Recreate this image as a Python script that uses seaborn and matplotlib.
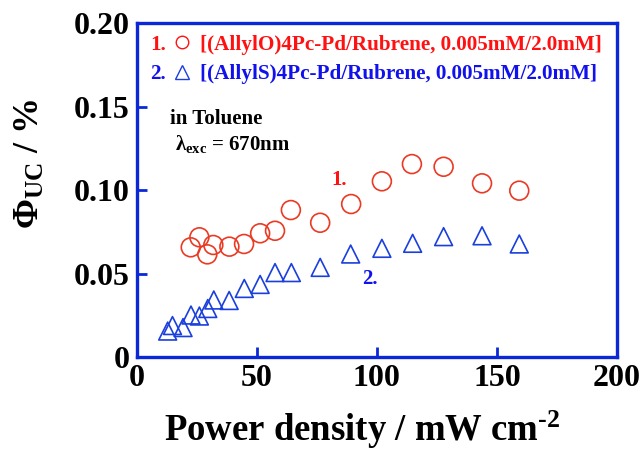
import matplotlib
matplotlib.use("Agg")
import matplotlib.pyplot as plt
import seaborn as sns
import pandas as pd

# ---- data ----
power_allylO = [22.5, 26.1, 29.4, 31.9, 38.6, 44.7, 51.4, 57.6, 64.2, 76.4,
                89.3, 102.1, 114.6, 127.8, 143.8, 159.3]
phi_allylO = [0.0658, 0.0718, 0.0616, 0.0672, 0.0662, 0.0678, 0.0742, 0.0757,
              0.0881, 0.0805, 0.0917, 0.1053, 0.1156, 0.1140, 0.1041, 0.0997]
power_allylS = [12.9, 14.9, 19.3, 22.6, 26.1, 29.6, 32.1, 38.5, 44.8, 51.4,
                57.6, 64.4, 76.4, 89.1, 102.1, 114.9, 127.8, 143.8, 159.3]
phi_allylS = [0.0157, 0.0190, 0.0178, 0.0253, 0.0247, 0.0292, 0.0343, 0.0340,
              0.0412, 0.0436, 0.0507, 0.0507, 0.0538, 0.0618, 0.0652, 0.0682,
              0.0722, 0.0727, 0.0678]
x_ticks = [0, 50, 100, 150, 200]
y_ticks = [0, 0.05, 0.10, 0.15, 0.20]
y_ticklabels = ["0", "0.05", "0.10", "0.15", "0.20"]
label_1 = "[(AllylO)4Pc-Pd/Rubrene, 0.005mM/2.0mM]"
label_2 = "[(AllylS)4Pc-Pd/Rubrene, 0.005mM/2.0mM]"

RED = "#ea3a24"
BLUE = "#1a3fdd"
FRAME = "#0a28d8"
TXT_RED = "#ff1111"
TXT_BLUE = "#1111ee"

sns.set_style("white")
plt.rcParams["font.family"] = ["Liberation Serif", "DejaVu Serif"]
plt.rcParams["font.weight"] = "bold"
plt.rcParams["text.color"] = "black"
plt.rcParams["axes.labelcolor"] = "black"
plt.rcParams["mathtext.fontset"] = "custom"
plt.rcParams["mathtext.rm"] = "Liberation Serif:bold"
plt.rcParams["mathtext.it"] = "Liberation Serif:bold"
plt.rcParams["mathtext.bf"] = "Liberation Serif:bold"

df1 = pd.DataFrame({"power": power_allylO, "phi": phi_allylO})
df2 = pd.DataFrame({"power": power_allylS, "phi": phi_allylS})

fig = plt.figure(figsize=(6.41, 4.50), dpi=100)
ax = fig.add_axes([136.7 / 641, (450 - 357.3) / 450, (617 - 136.7) / 641, (357.3 - 23) / 450])

sns.scatterplot(data=df1, x="power", y="phi", ax=ax, marker="o", s=185,
                facecolor="none", edgecolor=RED, linewidth=1.2, zorder=3)
sns.scatterplot(data=df2, x="power", y="phi", ax=ax, marker="^", s=165,
                facecolor="none", edgecolor=BLUE, linewidth=1.2, zorder=3)

ax.set_xlim(0, 200)
ax.set_ylim(0, 0.20)
ax.set_xticks(x_ticks)
ax.set_xticklabels([str(t) for t in x_ticks])
ax.set_yticks(y_ticks)
ax.set_yticklabels(y_ticklabels)
ax.tick_params(axis="both", direction="in", length=7, width=2, color=FRAME,
               labelcolor="black", labelsize=23, top=False, right=False,
               bottom=True, left=True)
ax.tick_params(axis="x", pad=5)
ax.tick_params(axis="y", pad=5)
for lab in ax.get_xticklabels() + ax.get_yticklabels():
    lab.set_fontweight("bold")
for sp in ax.spines.values():
    sp.set_color(FRAME)
    sp.set_linewidth(2.4)
    sp.set_visible(True)

ax.set_xlabel(r"Power density / mW cm$^{\text{-2}}$", fontsize=26.5, fontweight="bold")
ax.xaxis.set_label_coords(0.47, -0.155)
ax.set_ylabel(r"$\Phi_{UC}$ / %", fontsize=26, fontweight="bold")
ax.yaxis.set_label_coords(-0.187, 0.58)

# legend-like header
tr = ax.transAxes
fs_leg = 15.2
ax.text(0.028, 0.935, "1.", color=TXT_RED, fontsize=fs_leg, fontweight="bold", transform=tr, va="center")
ax.plot([0.094], [0.944], marker="o", ms=9, mfc="none", mec=TXT_RED, mew=1.0, transform=tr, clip_on=False)
ax.text(0.132, 0.935, label_1, color=TXT_RED, fontsize=fs_leg, fontweight="bold", transform=tr, va="center")
ax.text(0.028, 0.846, "2.", color=TXT_BLUE, fontsize=fs_leg, fontweight="bold", transform=tr, va="center")
ax.plot([0.094], [0.852], marker="^", ms=10, mfc="none", mec=BLUE, mew=1.0, transform=tr, clip_on=False)
ax.text(0.132, 0.846, label_2, color=TXT_BLUE, fontsize=fs_leg, fontweight="bold", transform=tr, va="center")

ax.text(0.070, 0.712, "in Toluene", color="black", fontsize=15, fontweight="bold", transform=tr, va="center")
ax.text(0.080, 0.638, r"$\lambda_{exc}$ = 670nm", color="black", fontsize=15, fontweight="bold", transform=tr, va="center")

ax.text(0.405, 0.530, "1.", color=TXT_RED, fontsize=15, fontweight="bold", transform=tr, va="center")
ax.text(0.470, 0.235, "2.", color=TXT_BLUE, fontsize=15, fontweight="bold", transform=tr, va="center")

fig.savefig("out.png", dpi=100)
